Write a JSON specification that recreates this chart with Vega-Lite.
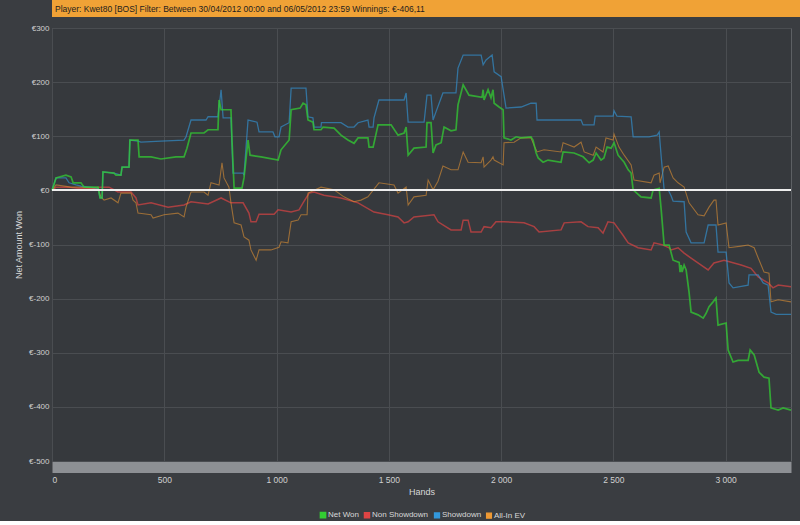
{
  "$schema": "https://vega.github.io/schema/vega-lite/v6.json",
  "padding": 0,
  "background": "#3a3d41",
  "spacing": 6,
  "config": {"font": "Liberation Sans", "view": {"stroke": null}},
  "datasets": {
    "series": [
      {"s":"Non Showdown","h":0,"v":0},{"s":"Non Showdown","h":18,"v":6},{"s":"Non Showdown","h":71,"v":6},{"s":"Non Showdown","h":116,"v":4},{"s":"Non Showdown","h":187,"v":4},{"s":"Non Showdown","h":209,"v":6},{"s":"Non Showdown","h":254,"v":6},{"s":"Non Showdown","h":294,"v":-3},{"s":"Non Showdown","h":352,"v":-3},{"s":"Non Showdown","h":374,"v":-14},{"s":"Non Showdown","h":383,"v":-27},{"s":"Non Showdown","h":441,"v":-23},{"s":"Non Showdown","h":517,"v":-31},{"s":"Non Showdown","h":588,"v":-27},{"s":"Non Showdown","h":619,"v":-21},{"s":"Non Showdown","h":695,"v":-25},{"s":"Non Showdown","h":753,"v":-14},{"s":"Non Showdown","h":797,"v":-23},{"s":"Non Showdown","h":851,"v":-23},{"s":"Non Showdown","h":877,"v":-42},{"s":"Non Showdown","h":886,"v":-58},{"s":"Non Showdown","h":909,"v":-58},{"s":"Non Showdown","h":922,"v":-44},{"s":"Non Showdown","h":989,"v":-44},{"s":"Non Showdown","h":1007,"v":-36},{"s":"Non Showdown","h":1065,"v":-40},{"s":"Non Showdown","h":1100,"v":-36},{"s":"Non Showdown","h":1118,"v":-23},{"s":"Non Showdown","h":1145,"v":-5},{"s":"Non Showdown","h":1167,"v":-3},{"s":"Non Showdown","h":1211,"v":-9},{"s":"Non Showdown","h":1287,"v":-14},{"s":"Non Showdown","h":1363,"v":-23},{"s":"Non Showdown","h":1434,"v":-40},{"s":"Non Showdown","h":1496,"v":-45},{"s":"Non Showdown","h":1541,"v":-49},{"s":"Non Showdown","h":1568,"v":-60},{"s":"Non Showdown","h":1586,"v":-58},{"s":"Non Showdown","h":1612,"v":-49},{"s":"Non Showdown","h":1701,"v":-45},{"s":"Non Showdown","h":1719,"v":-58},{"s":"Non Showdown","h":1777,"v":-73},{"s":"Non Showdown","h":1822,"v":-73},{"s":"Non Showdown","h":1831,"v":-55},{"s":"Non Showdown","h":1853,"v":-55},{"s":"Non Showdown","h":1866,"v":-77},{"s":"Non Showdown","h":1911,"v":-77},{"s":"Non Showdown","h":1924,"v":-67},{"s":"Non Showdown","h":1955,"v":-69},{"s":"Non Showdown","h":1977,"v":-58},{"s":"Non Showdown","h":2013,"v":-58},{"s":"Non Showdown","h":2102,"v":-60},{"s":"Non Showdown","h":2147,"v":-67},{"s":"Non Showdown","h":2169,"v":-77},{"s":"Non Showdown","h":2267,"v":-73},{"s":"Non Showdown","h":2281,"v":-60},{"s":"Non Showdown","h":2356,"v":-58},{"s":"Non Showdown","h":2387,"v":-67},{"s":"Non Showdown","h":2432,"v":-69},{"s":"Non Showdown","h":2454,"v":-79},{"s":"Non Showdown","h":2476,"v":-58},{"s":"Non Showdown","h":2503,"v":-60},{"s":"Non Showdown","h":2543,"v":-83},{"s":"Non Showdown","h":2566,"v":-97},{"s":"Non Showdown","h":2610,"v":-106},{"s":"Non Showdown","h":2668,"v":-110},{"s":"Non Showdown","h":2681,"v":-97},{"s":"Non Showdown","h":2721,"v":-101},{"s":"Non Showdown","h":2748,"v":-106},{"s":"Non Showdown","h":2757,"v":-110},{"s":"Non Showdown","h":2788,"v":-106},{"s":"Non Showdown","h":2815,"v":-116},{"s":"Non Showdown","h":2846,"v":-125},{"s":"Non Showdown","h":2891,"v":-138},{"s":"Non Showdown","h":2922,"v":-147},{"s":"Non Showdown","h":2948,"v":-134},{"s":"Non Showdown","h":2993,"v":-129},{"s":"Non Showdown","h":3069,"v":-138},{"s":"Non Showdown","h":3113,"v":-144},{"s":"Non Showdown","h":3145,"v":-160},{"s":"Non Showdown","h":3189,"v":-171},{"s":"Non Showdown","h":3211,"v":-180},{"s":"Non Showdown","h":3234,"v":-175},{"s":"Non Showdown","h":3291,"v":-178},

      {"s":"All-In EV","h":0,"v":0},{"s":"All-In EV","h":18,"v":10},{"s":"All-In EV","h":85,"v":6},{"s":"All-In EV","h":129,"v":6},{"s":"All-In EV","h":205,"v":4},{"s":"All-In EV","h":218,"v":-12},{"s":"All-In EV","h":232,"v":-18},{"s":"All-In EV","h":263,"v":-14},{"s":"All-In EV","h":294,"v":-23},{"s":"All-In EV","h":307,"v":-5},{"s":"All-In EV","h":352,"v":-5},{"s":"All-In EV","h":361,"v":-18},{"s":"All-In EV","h":374,"v":-23},{"s":"All-In EV","h":383,"v":-42},{"s":"All-In EV","h":441,"v":-45},{"s":"All-In EV","h":450,"v":-51},{"s":"All-In EV","h":499,"v":-45},{"s":"All-In EV","h":561,"v":-42},{"s":"All-In EV","h":588,"v":-49},{"s":"All-In EV","h":597,"v":-31},{"s":"All-In EV","h":619,"v":-3},{"s":"All-In EV","h":677,"v":-3},{"s":"All-In EV","h":695,"v":-9},{"s":"All-In EV","h":708,"v":14},{"s":"All-In EV","h":744,"v":10},{"s":"All-In EV","h":757,"v":51},{"s":"All-In EV","h":766,"v":23},{"s":"All-In EV","h":788,"v":6},{"s":"All-In EV","h":797,"v":-23},{"s":"All-In EV","h":811,"v":-60},{"s":"All-In EV","h":842,"v":-64},{"s":"All-In EV","h":855,"v":-86},{"s":"All-In EV","h":877,"v":-92},{"s":"All-In EV","h":886,"v":-110},{"s":"All-In EV","h":909,"v":-129},{"s":"All-In EV","h":922,"v":-110},{"s":"All-In EV","h":975,"v":-110},{"s":"All-In EV","h":1011,"v":-105},{"s":"All-In EV","h":1020,"v":-95},{"s":"All-In EV","h":1051,"v":-97},{"s":"All-In EV","h":1065,"v":-58},{"s":"All-In EV","h":1096,"v":-55},{"s":"All-In EV","h":1109,"v":-45},{"s":"All-In EV","h":1136,"v":-45},{"s":"All-In EV","h":1140,"v":-5},{"s":"All-In EV","h":1198,"v":6},{"s":"All-In EV","h":1256,"v":1},{"s":"All-In EV","h":1300,"v":-12},{"s":"All-In EV","h":1345,"v":-21},{"s":"All-In EV","h":1376,"v":-18},{"s":"All-In EV","h":1407,"v":-12},{"s":"All-In EV","h":1456,"v":14},{"s":"All-In EV","h":1523,"v":10},{"s":"All-In EV","h":1541,"v":-5},{"s":"All-In EV","h":1577,"v":6},{"s":"All-In EV","h":1586,"v":-27},{"s":"All-In EV","h":1612,"v":-12},{"s":"All-In EV","h":1666,"v":-9},{"s":"All-In EV","h":1675,"v":19},{"s":"All-In EV","h":1697,"v":1},{"s":"All-In EV","h":1719,"v":17},{"s":"All-In EV","h":1741,"v":45},{"s":"All-In EV","h":1777,"v":38},{"s":"All-In EV","h":1808,"v":38},{"s":"All-In EV","h":1831,"v":71},{"s":"All-In EV","h":1853,"v":52},{"s":"All-In EV","h":1911,"v":51},{"s":"All-In EV","h":1920,"v":62},{"s":"All-In EV","h":1924,"v":43},{"s":"All-In EV","h":1955,"v":56},{"s":"All-In EV","h":1964,"v":62},{"s":"All-In EV","h":1969,"v":56},{"s":"All-In EV","h":2009,"v":47},{"s":"All-In EV","h":2013,"v":88},{"s":"All-In EV","h":2058,"v":89},{"s":"All-In EV","h":2089,"v":97},{"s":"All-In EV","h":2133,"v":97},{"s":"All-In EV","h":2150,"v":80},{"s":"All-In EV","h":2160,"v":71},{"s":"All-In EV","h":2191,"v":75},{"s":"All-In EV","h":2267,"v":71},{"s":"All-In EV","h":2276,"v":88},{"s":"All-In EV","h":2325,"v":80},{"s":"All-In EV","h":2356,"v":89},{"s":"All-In EV","h":2370,"v":71},{"s":"All-In EV","h":2410,"v":65},{"s":"All-In EV","h":2423,"v":80},{"s":"All-In EV","h":2454,"v":71},{"s":"All-In EV","h":2467,"v":97},{"s":"All-In EV","h":2499,"v":93},{"s":"All-In EV","h":2503,"v":104},{"s":"All-In EV","h":2525,"v":80},{"s":"All-In EV","h":2548,"v":65},{"s":"All-In EV","h":2579,"v":47},{"s":"All-In EV","h":2592,"v":19},{"s":"All-In EV","h":2668,"v":14},{"s":"All-In EV","h":2681,"v":28},{"s":"All-In EV","h":2704,"v":32},{"s":"All-In EV","h":2708,"v":14},{"s":"All-In EV","h":2726,"v":43},{"s":"All-In EV","h":2744,"v":45},{"s":"All-In EV","h":2766,"v":23},{"s":"All-In EV","h":2788,"v":14},{"s":"All-In EV","h":2815,"v":6},{"s":"All-In EV","h":2837,"v":-23},{"s":"All-In EV","h":2877,"v":-45},{"s":"All-In EV","h":2904,"v":-47},{"s":"All-In EV","h":2926,"v":-31},{"s":"All-In EV","h":2948,"v":-18},{"s":"All-In EV","h":2957,"v":-18},{"s":"All-In EV","h":2966,"v":-64},{"s":"All-In EV","h":3002,"v":-60},{"s":"All-In EV","h":3015,"v":-106},{"s":"All-In EV","h":3069,"v":-103},{"s":"All-In EV","h":3100,"v":-101},{"s":"All-In EV","h":3127,"v":-106},{"s":"All-In EV","h":3145,"v":-125},{"s":"All-In EV","h":3171,"v":-151},{"s":"All-In EV","h":3193,"v":-153},{"s":"All-In EV","h":3202,"v":-206},{"s":"All-In EV","h":3234,"v":-202},{"s":"All-In EV","h":3291,"v":-206},

      {"s":"Showdown","h":0,"v":0},{"s":"Showdown","h":18,"v":23},{"s":"Showdown","h":62,"v":23},{"s":"Showdown","h":76,"v":14},{"s":"Showdown","h":107,"v":10},{"s":"Showdown","h":129,"v":8},{"s":"Showdown","h":205,"v":4},{"s":"Showdown","h":214,"v":-14},{"s":"Showdown","h":223,"v":-14},{"s":"Showdown","h":227,"v":34},{"s":"Showdown","h":276,"v":32},{"s":"Showdown","h":307,"v":28},{"s":"Showdown","h":312,"v":43},{"s":"Showdown","h":343,"v":43},{"s":"Showdown","h":347,"v":93},{"s":"Showdown","h":383,"v":91},{"s":"Showdown","h":396,"v":89},{"s":"Showdown","h":485,"v":91},{"s":"Showdown","h":588,"v":93},{"s":"Showdown","h":597,"v":99},{"s":"Showdown","h":619,"v":130},{"s":"Showdown","h":686,"v":130},{"s":"Showdown","h":695,"v":136},{"s":"Showdown","h":739,"v":136},{"s":"Showdown","h":753,"v":186},{"s":"Showdown","h":762,"v":134},{"s":"Showdown","h":797,"v":134},{"s":"Showdown","h":806,"v":32},{"s":"Showdown","h":851,"v":32},{"s":"Showdown","h":855,"v":28},{"s":"Showdown","h":873,"v":130},{"s":"Showdown","h":913,"v":126},{"s":"Showdown","h":922,"v":108},{"s":"Showdown","h":984,"v":108},{"s":"Showdown","h":993,"v":99},{"s":"Showdown","h":1011,"v":99},{"s":"Showdown","h":1020,"v":117},{"s":"Showdown","h":1056,"v":125},{"s":"Showdown","h":1065,"v":189},{"s":"Showdown","h":1131,"v":189},{"s":"Showdown","h":1140,"v":136},{"s":"Showdown","h":1162,"v":134},{"s":"Showdown","h":1167,"v":117},{"s":"Showdown","h":1198,"v":117},{"s":"Showdown","h":1200,"v":125},{"s":"Showdown","h":1287,"v":125},{"s":"Showdown","h":1318,"v":117},{"s":"Showdown","h":1345,"v":117},{"s":"Showdown","h":1363,"v":125},{"s":"Showdown","h":1407,"v":130},{"s":"Showdown","h":1412,"v":117},{"s":"Showdown","h":1430,"v":117},{"s":"Showdown","h":1434,"v":134},{"s":"Showdown","h":1456,"v":167},{"s":"Showdown","h":1568,"v":167},{"s":"Showdown","h":1577,"v":180},{"s":"Showdown","h":1586,"v":126},{"s":"Showdown","h":1657,"v":126},{"s":"Showdown","h":1670,"v":176},{"s":"Showdown","h":1688,"v":176},{"s":"Showdown","h":1697,"v":130},{"s":"Showdown","h":1710,"v":145},{"s":"Showdown","h":1741,"v":180},{"s":"Showdown","h":1799,"v":180},{"s":"Showdown","h":1808,"v":226},{"s":"Showdown","h":1831,"v":250},{"s":"Showdown","h":1911,"v":250},{"s":"Showdown","h":1920,"v":232},{"s":"Showdown","h":1933,"v":241},{"s":"Showdown","h":1960,"v":250},{"s":"Showdown","h":1969,"v":219},{"s":"Showdown","h":2000,"v":210},{"s":"Showdown","h":2022,"v":152},{"s":"Showdown","h":2089,"v":154},{"s":"Showdown","h":2133,"v":161},{"s":"Showdown","h":2156,"v":161},{"s":"Showdown","h":2160,"v":130},{"s":"Showdown","h":2356,"v":130},{"s":"Showdown","h":2365,"v":121},{"s":"Showdown","h":2414,"v":121},{"s":"Showdown","h":2419,"v":137},{"s":"Showdown","h":2499,"v":137},{"s":"Showdown","h":2503,"v":147},{"s":"Showdown","h":2516,"v":137},{"s":"Showdown","h":2579,"v":136},{"s":"Showdown","h":2588,"v":99},{"s":"Showdown","h":2659,"v":99},{"s":"Showdown","h":2695,"v":102},{"s":"Showdown","h":2704,"v":108},{"s":"Showdown","h":2713,"v":62},{"s":"Showdown","h":2726,"v":1},{"s":"Showdown","h":2744,"v":1},{"s":"Showdown","h":2757,"v":-10},{"s":"Showdown","h":2766,"v":-20},{"s":"Showdown","h":2815,"v":-21},{"s":"Showdown","h":2824,"v":-77},{"s":"Showdown","h":2846,"v":-97},{"s":"Showdown","h":2904,"v":-97},{"s":"Showdown","h":2922,"v":-64},{"s":"Showdown","h":2957,"v":-64},{"s":"Showdown","h":2966,"v":-114},{"s":"Showdown","h":3002,"v":-114},{"s":"Showdown","h":3015,"v":-171},{"s":"Showdown","h":3033,"v":-180},{"s":"Showdown","h":3100,"v":-175},{"s":"Showdown","h":3104,"v":-156},{"s":"Showdown","h":3145,"v":-156},{"s":"Showdown","h":3167,"v":-171},{"s":"Showdown","h":3189,"v":-175},{"s":"Showdown","h":3202,"v":-225},{"s":"Showdown","h":3225,"v":-229},{"s":"Showdown","h":3291,"v":-229},

      {"s":"Net Won","h":0,"v":0},{"s":"Net Won","h":18,"v":23},{"s":"Net Won","h":62,"v":28},{"s":"Net Won","h":85,"v":25},{"s":"Net Won","h":94,"v":14},{"s":"Net Won","h":129,"v":14},{"s":"Net Won","h":143,"v":6},{"s":"Net Won","h":205,"v":6},{"s":"Net Won","h":214,"v":-14},{"s":"Net Won","h":223,"v":-14},{"s":"Net Won","h":227,"v":34},{"s":"Net Won","h":276,"v":32},{"s":"Net Won","h":285,"v":28},{"s":"Net Won","h":307,"v":28},{"s":"Net Won","h":312,"v":43},{"s":"Net Won","h":343,"v":43},{"s":"Net Won","h":347,"v":93},{"s":"Net Won","h":383,"v":93},{"s":"Net Won","h":388,"v":62},{"s":"Net Won","h":441,"v":62},{"s":"Net Won","h":485,"v":58},{"s":"Net Won","h":552,"v":62},{"s":"Net Won","h":588,"v":62},{"s":"Net Won","h":601,"v":78},{"s":"Net Won","h":619,"v":106},{"s":"Net Won","h":677,"v":106},{"s":"Net Won","h":695,"v":112},{"s":"Net Won","h":739,"v":112},{"s":"Net Won","h":744,"v":167},{"s":"Net Won","h":753,"v":149},{"s":"Net Won","h":797,"v":149},{"s":"Net Won","h":802,"v":89},{"s":"Net Won","h":811,"v":4},{"s":"Net Won","h":846,"v":4},{"s":"Net Won","h":855,"v":23},{"s":"Net Won","h":873,"v":93},{"s":"Net Won","h":882,"v":65},{"s":"Net Won","h":931,"v":62},{"s":"Net Won","h":1007,"v":56},{"s":"Net Won","h":1020,"v":75},{"s":"Net Won","h":1056,"v":93},{"s":"Net Won","h":1065,"v":149},{"s":"Net Won","h":1105,"v":152},{"s":"Net Won","h":1118,"v":161},{"s":"Net Won","h":1131,"v":158},{"s":"Net Won","h":1140,"v":130},{"s":"Net Won","h":1162,"v":126},{"s":"Net Won","h":1167,"v":112},{"s":"Net Won","h":1198,"v":112},{"s":"Net Won","h":1207,"v":117},{"s":"Net Won","h":1256,"v":115},{"s":"Net Won","h":1287,"v":102},{"s":"Net Won","h":1318,"v":93},{"s":"Net Won","h":1345,"v":87},{"s":"Net Won","h":1363,"v":97},{"s":"Net Won","h":1407,"v":97},{"s":"Net Won","h":1412,"v":80},{"s":"Net Won","h":1430,"v":80},{"s":"Net Won","h":1452,"v":121},{"s":"Net Won","h":1510,"v":121},{"s":"Net Won","h":1541,"v":102},{"s":"Net Won","h":1568,"v":106},{"s":"Net Won","h":1577,"v":117},{"s":"Net Won","h":1586,"v":65},{"s":"Net Won","h":1612,"v":78},{"s":"Net Won","h":1666,"v":80},{"s":"Net Won","h":1670,"v":125},{"s":"Net Won","h":1688,"v":125},{"s":"Net Won","h":1697,"v":69},{"s":"Net Won","h":1710,"v":84},{"s":"Net Won","h":1733,"v":88},{"s":"Net Won","h":1746,"v":117},{"s":"Net Won","h":1777,"v":110},{"s":"Net Won","h":1799,"v":112},{"s":"Net Won","h":1808,"v":158},{"s":"Net Won","h":1831,"v":195},{"s":"Net Won","h":1857,"v":176},{"s":"Net Won","h":1915,"v":172},{"s":"Net Won","h":1920,"v":186},{"s":"Net Won","h":1924,"v":167},{"s":"Net Won","h":1942,"v":186},{"s":"Net Won","h":1955,"v":171},{"s":"Net Won","h":1964,"v":186},{"s":"Net Won","h":1969,"v":161},{"s":"Net Won","h":1991,"v":154},{"s":"Net Won","h":2009,"v":149},{"s":"Net Won","h":2013,"v":97},{"s":"Net Won","h":2044,"v":93},{"s":"Net Won","h":2067,"v":99},{"s":"Net Won","h":2089,"v":97},{"s":"Net Won","h":2133,"v":99},{"s":"Net Won","h":2142,"v":93},{"s":"Net Won","h":2156,"v":69},{"s":"Net Won","h":2165,"v":60},{"s":"Net Won","h":2187,"v":52},{"s":"Net Won","h":2209,"v":56},{"s":"Net Won","h":2267,"v":52},{"s":"Net Won","h":2276,"v":71},{"s":"Net Won","h":2325,"v":69},{"s":"Net Won","h":2365,"v":62},{"s":"Net Won","h":2392,"v":51},{"s":"Net Won","h":2410,"v":56},{"s":"Net Won","h":2423,"v":69},{"s":"Net Won","h":2445,"v":56},{"s":"Net Won","h":2458,"v":60},{"s":"Net Won","h":2472,"v":80},{"s":"Net Won","h":2490,"v":78},{"s":"Net Won","h":2503,"v":88},{"s":"Net Won","h":2521,"v":65},{"s":"Net Won","h":2548,"v":52},{"s":"Net Won","h":2566,"v":38},{"s":"Net Won","h":2579,"v":32},{"s":"Net Won","h":2588,"v":1},{"s":"Net Won","h":2623,"v":-12},{"s":"Net Won","h":2668,"v":-14},{"s":"Net Won","h":2677,"v":1},{"s":"Net Won","h":2704,"v":4},{"s":"Net Won","h":2713,"v":-36},{"s":"Net Won","h":2726,"v":-101},{"s":"Net Won","h":2748,"v":-101},{"s":"Net Won","h":2766,"v":-129},{"s":"Net Won","h":2793,"v":-133},{"s":"Net Won","h":2797,"v":-151},{"s":"Net Won","h":2802,"v":-138},{"s":"Net Won","h":2806,"v":-151},{"s":"Net Won","h":2815,"v":-138},{"s":"Net Won","h":2824,"v":-147},{"s":"Net Won","h":2837,"v":-188},{"s":"Net Won","h":2846,"v":-225},{"s":"Net Won","h":2877,"v":-230},{"s":"Net Won","h":2900,"v":-236},{"s":"Net Won","h":2913,"v":-227},{"s":"Net Won","h":2926,"v":-215},{"s":"Net Won","h":2944,"v":-206},{"s":"Net Won","h":2957,"v":-199},{"s":"Net Won","h":2966,"v":-249},{"s":"Net Won","h":3002,"v":-245},{"s":"Net Won","h":3011,"v":-295},{"s":"Net Won","h":3033,"v":-317},{"s":"Net Won","h":3055,"v":-314},{"s":"Net Won","h":3100,"v":-314},{"s":"Net Won","h":3109,"v":-295},{"s":"Net Won","h":3127,"v":-304},{"s":"Net Won","h":3149,"v":-336},{"s":"Net Won","h":3171,"v":-345},{"s":"Net Won","h":3193,"v":-347},{"s":"Net Won","h":3202,"v":-402},{"s":"Net Won","h":3234,"v":-406},{"s":"Net Won","h":3256,"v":-402},{"s":"Net Won","h":3291,"v":-406}
    ]
  },
  "vconcat": [
    {
      "width": 800,
      "height": 17,
      "view": {"fill": "#f0a236", "stroke": null},
      "data": {"values": [{"t": "Player: Kwet80 [BOS]  Filter: Between 30/04/2012 00:00 and 06/05/2012 23:59  Winnings: €-406,11", "p": 0}]},
      "mark": {"type": "text", "align": "left", "baseline": "middle", "dx": 3, "fontSize": 8.5, "color": "#1e1e1e"},
      "encoding": {
        "x": {"field": "p", "type": "quantitative", "scale": {"domain": [0, 1]}, "axis": null},
        "y": {"field": "p", "type": "quantitative", "scale": {"domain": [-1, 1]}, "axis": null},
        "text": {"field": "t"}
      }
    },
    {
      "width": 739,
      "height": 433,
      "view": {"fill": "#36393d", "stroke": "#5d6064"},
      "data": {"name": "series"},
      "layer": [
        {
          "mark": {"type": "line", "interpolate": "linear"},
          "encoding": {
            "x": {"field": "h", "type": "quantitative", "scale": {"domain": [0, 3291], "nice": false, "zero": false},
              "axis": {"title": "Hands", "values": [0, 500, 1000, 1500, 2000, 2500, 3000],
                "labelExpr": "replace(format(datum.value, ','), ',', ' ')",
                "grid": true, "gridColor": "#4a4d51", "ticks": false, "tickSize": 0,
                "domainColor": "#8d9094", "domainWidth": 11, "offset": 6,
                "labelPadding": 8, "labelColor": "#d0d0d0", "labelFontSize": 8.5,
                "titleColor": "#d8d8d8", "titleFontSize": 9, "titleFontWeight": "normal", "titlePadding": 4}},
            "y": {"field": "v", "type": "quantitative", "scale": {"domain": [-500, 300], "nice": false},
              "axis": {"title": "Net Amount Won", "values": [-500, -400, -300, -200, -100, 0, 100, 200, 300],
                "labelExpr": "'€' + datum.value",
                "grid": true, "gridColor": "#4a4d51", "ticks": false, "tickSize": 0, "domain": false,
                "labelPadding": 3, "labelColor": "#d0d0d0", "labelFontSize": 8,
                "minExtent": 51, "maxExtent": 51, "titleX": -34, "titleBaseline": "middle",
                "titleColor": "#d8d8d8", "titleFontSize": 9, "titleFontWeight": "normal"}},
            "color": {"field": "s", "type": "nominal",
              "scale": {"domain": ["Net Won", "Non Showdown", "Showdown", "All-In EV"], "range": ["#33cc33", "#dd4444", "#3399dd", "#ee9933"]},
              "legend": {"title": null, "orient": "none", "legendX": 267, "legendY": 511, "direction": "horizontal",
                "symbolType": "square", "symbolSize": 25, "labelFontSize": 8, "labelColor": "#d8d8d8",
                "columnPadding": 2, "labelOffset": 1,
                "encode": {"symbols": {"update": {"fill": {"scale": "color", "field": "value"}, "fillOpacity": {"value": 1}, "strokeWidth": {"value": 0}, "opacity": {"value": 1}}}}}},
            "strokeOpacity": {"field": "s", "type": "nominal",
              "scale": {"domain": ["Net Won", "Non Showdown", "Showdown", "All-In EV"], "range": [0.75, 0.55, 0.58, 0.6]}, "legend": null},
            "strokeWidth": {"field": "s", "type": "nominal",
              "scale": {"domain": ["Net Won", "Non Showdown", "Showdown", "All-In EV"], "range": [1.7, 1.1, 1.1, 1.1]}, "legend": null}
          }
        },
        {
          "mark": {"type": "rule", "color": "#eeeeee", "strokeWidth": 1.2},
          "encoding": {"y": {"datum": 0, "type": "quantitative"}}
        }
      ]
    }
  ]
}
